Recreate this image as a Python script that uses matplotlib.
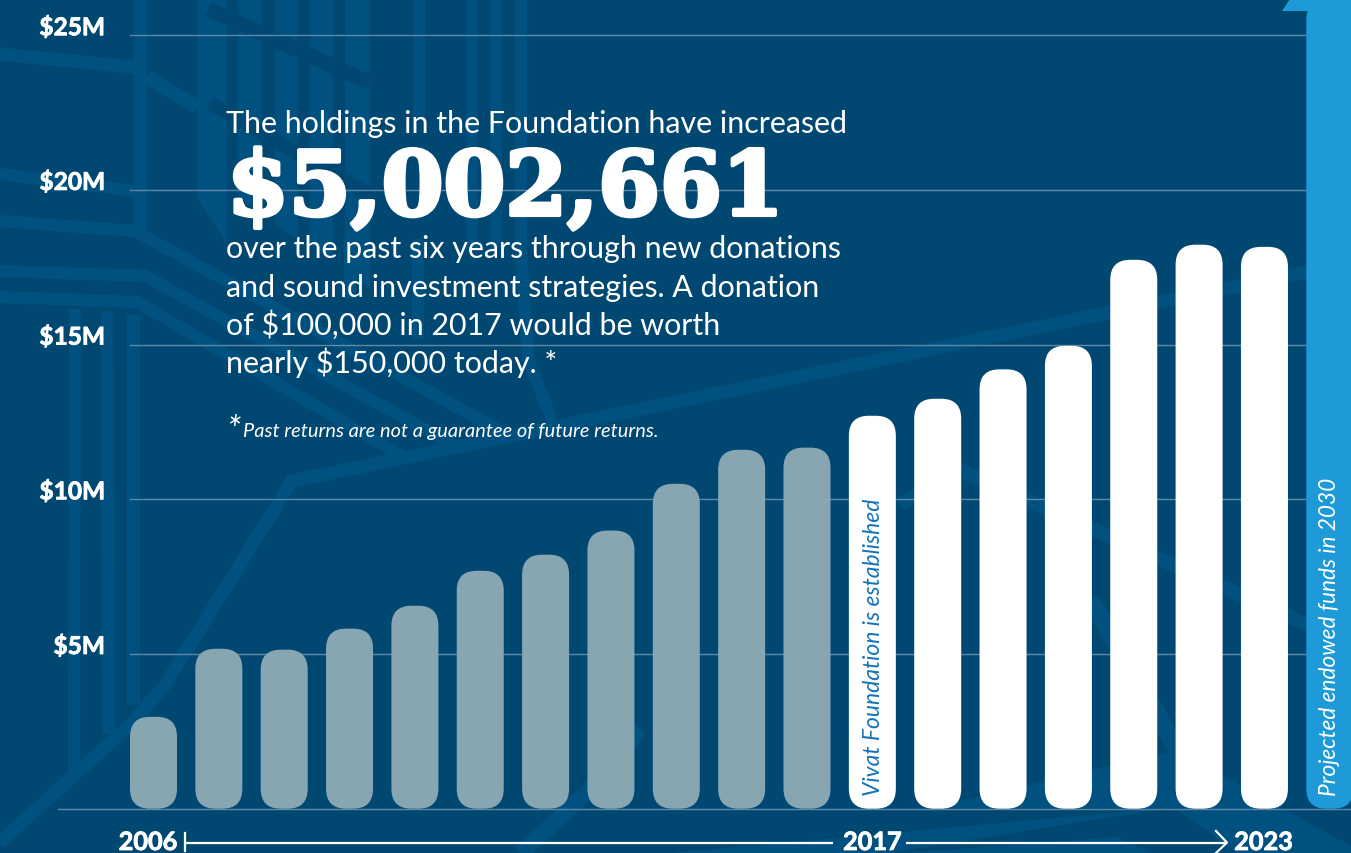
import matplotlib
matplotlib.use("Agg")
import matplotlib.pyplot as plt
from matplotlib.patches import FancyBboxPatch, Polygon
from matplotlib.transforms import Affine2D, blended_transform_factory
import matplotlib.patheffects as pe

W, H = 1351, 854
BASE = "#004872"
STREAK = "#00517f"
GRID = "#5e89a6"
GREY_BAR = "#88a6b2"
SKY = "#1e9ad9"
BODY = "Lato"

years = list(range(2006, 2024))
holdings_before = [2.97, 5.17, 5.14, 5.82, 6.56, 7.69, 8.21, 8.99, 10.5, 11.6, 11.67]
holdings_after = [12.7, 13.25, 14.2, 14.96, 17.74, 18.23, 18.16]
projected_2030 = 26.15
y_ticks = [5, 10, 15, 20, 25]
y_tick_labels = ["$5M", "$10M", "$15M", "$20M", "$25M"]

# Decorative backdrop, given in device pixels measured from the top-left corner
light_bands = [
    ([(0, 55), (133, 68), (140, 72)], 13),
    ([(147, 78), (197, 108)], 14),
    ([(0, 175), (135, 192)], 12),
    ([(0, 222), (135, 232), (146, 238), (510, 437)], 12),
    ([(0, 272), (145, 277), (452, 445)], 12),
    ([(0, 298), (137, 303), (402, 457)], 12),
    ([(140, 0), (140, 232)], 13),
    ([(75, 310), (74, 772)], 12),
    ([(107, 312), (109, 735)], 13),
    ([(133, 315), (133, 705)], 13),
    ([(-10, 852), (130, 726), (165, 686), (292, 482), (1306, 273)], 13),
    ([(419, 0), (419, 120)], 12),
    ([(472, 0), (472, 250)], 12),
    ([(496, 0), (496, 250)], 12),
    ([(521, 0), (521, 250), (528, 360), (556, 432)], 12),
    ([(350, 240), (350, 300)], 12),
    ([(418, 240), (418, 340)], 12),
    ([(515, 860), (590, 790), (640, 730)], 16),
    ([(900, 505), (962, 472), (1306, 625)], 14),
    ([(1090, 600), (1178, 752)], 18),
]
light_panels = [
    [(197, 0), (227, 0), (227, 245), (197, 200)],
    [(238, 0), (262, 0), (262, 215), (238, 200)],
    [(275, 0), (298, 0), (298, 240), (275, 225)],
    [(310, 0), (333, 0), (333, 260), (310, 245)],
    [(345, 0), (370, 0), (370, 290), (345, 275)],
    # wedges crossing the baseline at the lower right
    [(672, 854), (1175, 808), (887, 854)],
    [(906, 854), (1117, 838), (1151, 854)],
    [(930, 809), (1150, 757), (1177, 752), (1351, 847), (1351, 854), (1237, 854), (1175, 809)],
]
dark_bands = [
    ([(208, 10), (370, 84)], 15),
    ([(210, 104), (370, 196)], 14),
]

fig = plt.figure(figsize=(W / 100, H / 100), dpi=100, facecolor=BASE)
ax = fig.add_axes([0, 0, 1, 1])
ax.set_axis_off()

# One data axis spans the whole figure: bar index on x, millions of dollars on y
x_unit, y_unit = 65.35, 30.94
x0_px, y0_px = 153.5, 809.7
ax.set_xlim(-x0_px / x_unit, (W - x0_px) / x_unit)
ax.set_ylim((y0_px - H) / y_unit, y0_px / y_unit)

px = Affine2D().scale(1, -1).translate(0, H)
for poly in light_panels:
    ax.add_patch(Polygon(poly, closed=True, fc=STREAK, ec="none", transform=px, zorder=1))
for pts, width in light_bands:
    xs, ys = zip(*pts)
    ax.plot(xs, ys, color=STREAK, lw=width * 0.72, transform=px, zorder=1,
            solid_capstyle="butt", solid_joinstyle="miter")
for pts, width in dark_bands:
    xs, ys = zip(*pts)
    ax.plot(xs, ys, color=BASE, lw=width * 0.72, transform=px, zorder=1.1,
            solid_capstyle="butt")

# Gridlines and baseline
right_edge = 1306
x_axes = blended_transform_factory(px, ax.transData)
for v in y_ticks:
    ax.plot([130, right_edge], [v, v], color=GRID, lw=1.0, transform=x_axes, zorder=2)
ax.plot([58, W], [0, 0], color=GRID, lw=1.0, transform=x_axes, zorder=2)

# Bold labels get a hairline outline for a heavier weight
heavier = [pe.withStroke(linewidth=0.6, foreground="white")]
for v, lab in zip(y_ticks, y_tick_labels):
    ax.text(105, v, lab, transform=x_axes, ha="right", va="baseline", color="white",
            fontsize=17.6, fontweight="bold", family=BODY, zorder=5, path_effects=heavier)

# Rounded bars
bar_w = 47 / x_unit
radius = 20 / x_unit
def rounded_bar(i, value, color, z=4):
    ax.add_patch(FancyBboxPatch(
        (i - bar_w / 2, 0), bar_w, value,
        boxstyle=f"round,pad=0,rounding_size={radius}",
        mutation_aspect=x_unit / y_unit, fc=color, ec="none", lw=0, zorder=z))

n_before = len(holdings_before)
for i, v in enumerate(holdings_before):
    rounded_bar(i, v, GREY_BAR)
for i, v in enumerate(holdings_after):
    rounded_bar(i + n_before, v, "white")

# Projection column with its arrowhead running off the top edge
rounded_bar(len(years), projected_2030, SKY)
ax.add_patch(Polygon([(1282, 12), (1290, 0), (1351, 0), (1351, 12)], closed=True,
                     fc=SKY, ec="none", transform=px, zorder=4))

ax.text(873, 796, "Vivat Foundation is established", transform=px, rotation=90,
        ha="center", va="bottom", color="#1272bb",
        fontsize=16.5, style="italic", family=BODY, zorder=6)
ax.text(1329, 796, "Projected endowed funds in 2030", transform=px, rotation=90,
        ha="center", va="bottom", color="white",
        fontsize=16.3, style="italic", family=BODY, zorder=6)

# Headline block
ax.text(226, 133, "The holdings in the Foundation have increased", transform=px,
        color="white", fontsize=21.9, family=BODY, va="baseline", zorder=3)
ax.text(227, 216, "$5,002,661", transform=px, color="white", fontsize=64,
        family="DejaVu Serif", fontweight="bold", va="baseline", zorder=3,
        path_effects=[pe.withStroke(linewidth=3, foreground="white")])
body_lines = [
    "over the past six years through new donations",
    "and sound investment strategies. A donation",
    "of $100,000 in 2017 would be worth",
    "nearly $150,000 today. *",
]
for baseline, line in zip([258, 297, 335, 373], body_lines):
    ax.text(226, baseline, line, transform=px, color="white", fontsize=21.9,
            family=BODY, va="baseline", zorder=3)
ax.text(227, 442, "*", transform=px, color="white", fontsize=26, style="italic",
        family=BODY, va="baseline", zorder=3)
ax.text(243, 437, "Past returns are not a guarantee of future returns.", transform=px,
        color="white", fontsize=14.45, style="italic", family=BODY, va="baseline", zorder=3)

# Timeline under the bars
tl_y = 843.5
ax.plot([185, 833], [tl_y, tl_y], color="white", lw=1.6, transform=px, zorder=5, solid_capstyle="butt")
ax.plot([906, 1226], [tl_y, tl_y], color="white", lw=1.6, transform=px, zorder=5, solid_capstyle="butt")
ax.plot([185, 185], [834, 852], color="white", lw=1.6, transform=px, zorder=5)
ax.plot([1216, 1227, 1216], [832, tl_y, 854], color="white", lw=1.6, transform=px, zorder=5)
baseline_axis = blended_transform_factory(ax.transData, px)
for i, offset in [(0, -0.085), (11, 0), (17, -0.015)]:
    ax.text(i + offset, 851, str(years[i]), transform=baseline_axis, ha="center", va="baseline",
            color="white", fontsize=18.2, fontweight="bold", family=BODY, zorder=6,
            path_effects=heavier)

fig.savefig("out.png", dpi=100, facecolor=BASE)
